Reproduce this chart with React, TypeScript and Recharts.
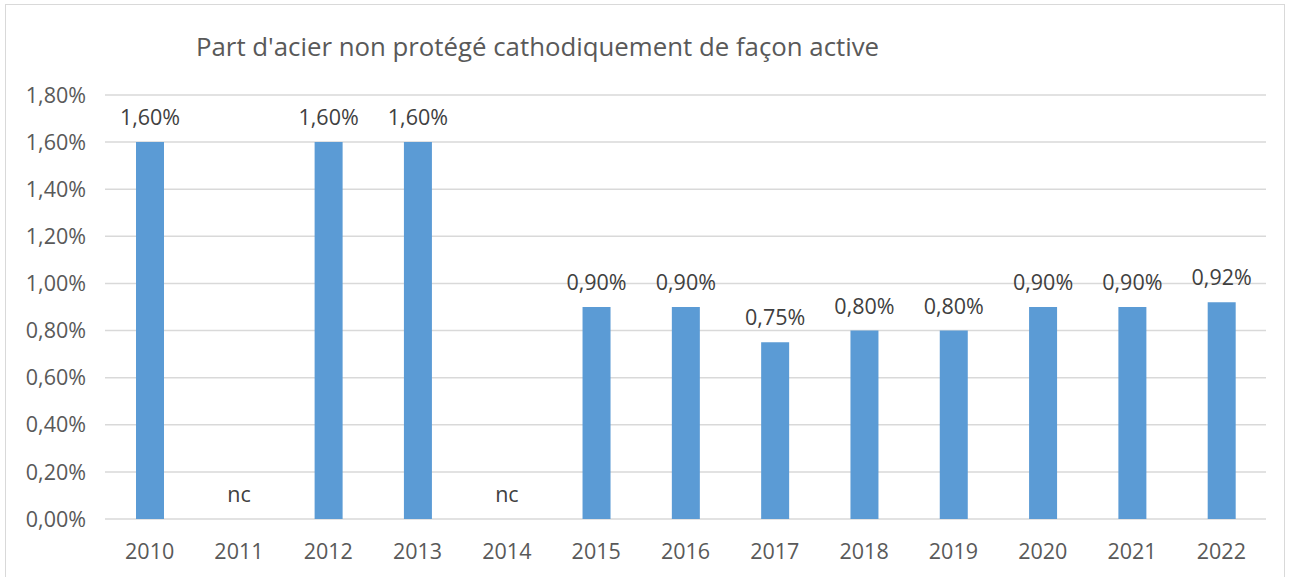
import React from 'react';
import { BarChart, Bar, XAxis, YAxis, CartesianGrid, LabelList } from 'recharts';

const years = ['2010', '2011', '2012', '2013', '2014', '2015', '2016', '2017', '2018', '2019', '2020', '2021', '2022'];
// share in percent, null = "nc" (not communicated)
const shares: (number | null)[] = [1.6, null, 1.6, 1.6, null, 0.9, 0.9, 0.75, 0.8, 0.8, 0.9, 0.9, 0.92];
const yTicks = [0, 0.2, 0.4, 0.6, 0.8, 1.0, 1.2, 1.4, 1.6, 1.8];

const fmt = (v: number) => `${v.toFixed(2).replace('.', ',')}%`;

const data = years.map((year, i) => ({
    year,
    share: shares[i],
    label: shares[i] == null ? 'nc' : fmt(shares[i] as number),
}));

const FONT = '"Open Sans", sans-serif';
const FS = 21.5;
const TICK_MARGIN = 25;

const renderLabel = (props: any) => {
    const { x, y, width, value } = props;
    if (value == null) return null;
    return (
        <text x={Number(x) + Number(width) / 2} y={Number(y) - 17} textAnchor="middle" fill="#404040" fontSize={FS} fontFamily={FONT}>
            {value}
        </text>
    );
};

// year tick; also writes "nc" just above the baseline for years without a value
const YearTick = (props: any) => {
    const { x, y, payload } = props;
    const missing = shares[payload.index] == null;
    return (
        <g>
            <text x={x} y={y} dy="0.71em" textAnchor="middle" fill="#595959" fontSize={FS} fontFamily={FONT}>
                {payload.value}
            </text>
            {missing && (
                <text x={x} y={y - TICK_MARGIN - 17} textAnchor="middle" fill="#404040" fontSize={FS} fontFamily={FONT}>
                    nc
                </text>
            )}
        </g>
    );
};

export default function App() {
    return (
        <div style={{ position: 'absolute', left: 0, top: 0, width: 1297, height: 577, background: '#fff', overflow: 'hidden' }}>
            <div style={{ position: 'absolute', left: 5, top: 4, width: 1280, height: 580, border: '1px solid #d9d9d9', boxSizing: 'border-box' }} />
            <div style={{ position: 'absolute', left: 196, top: 30, fontFamily: FONT, fontSize: 25.8, color: '#595959', lineHeight: '32px', whiteSpace: 'nowrap' }}>
                Part d'acier non protégé cathodiquement de façon active
            </div>
            <div style={{ position: 'absolute', left: 0, top: 0 }}>
                <BarChart width={1297} height={577} data={data} margin={{ top: 95, right: 31, bottom: 0, left: 0 }}>
                    <CartesianGrid vertical={false} stroke="#d9d9d9" strokeWidth={1.5} />
                    <XAxis
                        dataKey="year"
                        height={58}
                        axisLine={false}
                        tickLine={false}
                        tickSize={0}
                        tickMargin={TICK_MARGIN}
                        tick={<YearTick />}
                        interval={0}
                    />
                    <YAxis
                        width={105}
                        domain={[0, 1.8]}
                        ticks={yTicks}
                        tickFormatter={fmt}
                        axisLine={false}
                        tickLine={false}
                        tickSize={0}
                        tickMargin={19}
                        tick={{ fontSize: FS, fill: '#595959', fontFamily: FONT }}
                        interval={0}
                    />
                    <Bar dataKey="share" fill="#5b9bd5" barSize={28} isAnimationActive={false}>
                        <LabelList dataKey="label" content={renderLabel} />
                    </Bar>
                </BarChart>
            </div>
        </div>
    );
}
